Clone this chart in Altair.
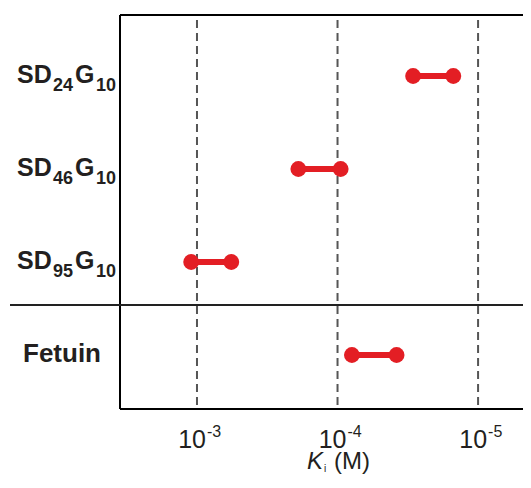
import altair as alt
import pandas as pd

# ---- data ----
categories = ["SD24G10", "SD46G10", "SD95G10", "Fetuin"]
ki_max = [2.9e-5, 1.9e-4, 1.1e-3, 7.9e-5]   # left dot (weaker)
ki_min = [1.5e-5, 9.5e-5, 5.7e-4, 3.8e-5]   # right dot (stronger)

sd_categories = ["SD24G10", "SD46G10", "SD95G10"]
sd_main1 = ["SD", "SD", "SD"]
sd_sub1 = ["24", "46", "95"]
sd_main2 = ["G", "G", "G"]
sd_sub2 = ["10", "10", "10"]
other_categories = ["Fetuin"]

tick_values = [1e-3, 1e-4, 1e-5]
tick_base = ["10", "10", "10"]
tick_exps = ["-3", "-4", "-5"]

title_main = ["K"]
title_sub = ["i"]
title_unit = ["(M)"]

# ---- tables ----
df = pd.DataFrame({"cat": categories, "kmax": ki_max, "kmin": ki_min})
sd_df = pd.DataFrame({"cat": sd_categories, "m1": sd_main1, "s1": sd_sub1,
                      "m2": sd_main2, "s2": sd_sub2})
oth_df = pd.DataFrame({"cat": other_categories})
tick_df = pd.DataFrame({"value": tick_values, "base": tick_base, "exp": tick_exps})
one = pd.DataFrame({"a": [0]})

W, H = 403, 394
RED = "#E31E24"
FONT = "Liberation Sans"
INK = "#231f20"

xscale = alt.Scale(type="log", domain=[4.79e-6, 3.53e-3], reverse=True, nice=False)
yscale = alt.Scale(type="point", domain=categories, range=[61, 340], padding=0)

X = lambda f: alt.X(f, type="quantitative", scale=xscale, axis=None)
Y = alt.Y("cat:N", scale=yscale, axis=None)

grid = alt.Chart(tick_df).mark_rule(color="#555555", strokeWidth=2, strokeDash=[8, 5]).encode(
    x=X("value"), y=alt.value(5), y2=alt.value(H))

frame_left = alt.Chart(one).mark_rule(color="black", strokeWidth=2).encode(
    x=alt.value(0), y=alt.value(0), y2=alt.value(H))
frame_top = alt.Chart(one).mark_rule(color="black", strokeWidth=2).encode(
    x=alt.value(0), x2=alt.value(W), y=alt.value(0))
frame_bot = alt.Chart(one).mark_rule(color="black", strokeWidth=2).encode(
    x=alt.value(0), x2=alt.value(W), y=alt.value(H))
separator = alt.Chart(one).mark_rule(color="#222222", strokeWidth=2).encode(
    x=alt.value(-110), x2=alt.value(W), y=alt.value(290))

bars = alt.Chart(df).mark_rule(color=RED, strokeWidth=6).encode(
    x=X("kmax"), x2="kmin", y=Y)
dots_l = alt.Chart(df).mark_circle(color=RED, opacity=1, size=250).encode(x=X("kmax"), y=Y)
dots_r = alt.Chart(df).mark_circle(color=RED, opacity=1, size=250).encode(x=X("kmin"), y=Y)

lab_kw = dict(font=FONT, fontWeight="bold", color=INK, align="left", baseline="alphabetic")
lab_m1 = alt.Chart(sd_df).mark_text(fontSize=25, dy=7, **lab_kw).encode(
    x=alt.value(-103), y=Y, text="m1:N")
lab_s1 = alt.Chart(sd_df).mark_text(fontSize=18, dy=15, **lab_kw).encode(
    x=alt.value(-67), y=Y, text="s1:N")
lab_m2 = alt.Chart(sd_df).mark_text(fontSize=25, dy=7, **lab_kw).encode(
    x=alt.value(-45), y=Y, text="m2:N")
lab_s2 = alt.Chart(sd_df).mark_text(fontSize=18, dy=15, **lab_kw).encode(
    x=alt.value(-24), y=Y, text="s2:N")
lab_oth = alt.Chart(oth_df).mark_text(fontSize=26, dy=7, **lab_kw).encode(
    x=alt.value(-97), y=Y, text="cat:N")

tick_b = alt.Chart(tick_df).mark_text(font=FONT, fontSize=25, color=INK, align="right",
                                      baseline="alphabetic", dx=9).encode(
    x=X("value"), y=alt.value(433), text="base:N")
tick_e = alt.Chart(tick_df).mark_text(font=FONT, fontSize=16, color=INK, align="left",
                                      baseline="alphabetic", dx=10).encode(
    x=X("value"), y=alt.value(422), text="exp:N")

t_main = alt.Chart(pd.DataFrame({"t": title_main})).mark_text(
    font=FONT, fontSize=24, fontStyle="italic", color=INK, align="left",
    baseline="alphabetic").encode(x=alt.value(187), y=alt.value(454), text="t:N")
t_sub = alt.Chart(pd.DataFrame({"t": title_sub})).mark_text(
    font=FONT, fontSize=10, color=INK, align="left",
    baseline="alphabetic").encode(x=alt.value(204), y=alt.value(457), text="t:N")
t_unit = alt.Chart(pd.DataFrame({"t": title_unit})).mark_text(
    font=FONT, fontSize=24, color=INK, align="left",
    baseline="alphabetic").encode(x=alt.value(214), y=alt.value(454), text="t:N")

chart = alt.layer(
    grid, frame_left, frame_top, frame_bot, separator,
    bars, dots_l, dots_r,
    lab_m1, lab_s1, lab_m2, lab_s2, lab_oth,
    tick_b, tick_e, t_main, t_sub, t_unit,
).properties(
    width=W, height=H,
    autosize=alt.AutoSizeParams(type="none"),
    padding={"left": 112, "top": 7, "right": 0, "bottom": 65},
).configure_view(stroke=None)

chart.save("out.html", embed_options={"renderer": "svg", "actions": False})
